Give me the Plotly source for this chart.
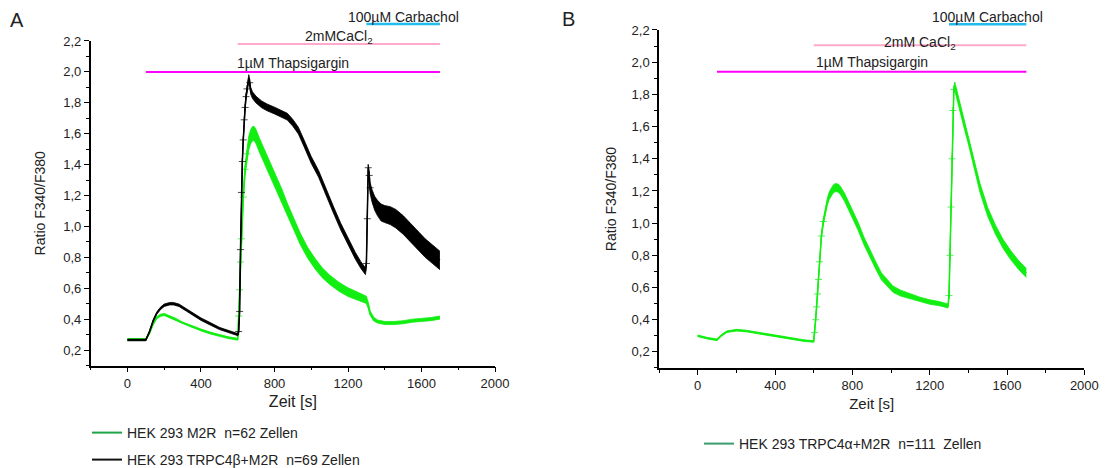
import plotly.graph_objects as go

# ---------------- data ----------------
# Panel A, HEK 293 M2R (green)
t_m2r = [0, 50, 100, 120, 140, 160, 180, 200, 230, 260, 300, 350, 400, 450, 500, 550, 600,
         605, 610, 615, 620, 630, 640, 650, 660, 670, 680, 690, 700,
         720, 750, 780, 810, 840, 870, 900, 940, 980, 1020, 1060, 1100,
         1150, 1200, 1250, 1300, 1310, 1320, 1340, 1360, 1400,
         1450, 1500, 1550, 1600, 1650, 1700]
r_m2r = [0.27, 0.27, 0.27, 0.31, 0.37, 0.41, 0.425, 0.43, 0.415, 0.40, 0.375, 0.35, 0.33, 0.31, 0.295, 0.28, 0.27,
         0.42, 0.59, 0.77, 0.92, 1.19, 1.37, 1.47, 1.54, 1.58, 1.60, 1.60, 1.58,
         1.52, 1.44, 1.36, 1.28, 1.20, 1.11, 1.03, 0.92, 0.83, 0.76, 0.70, 0.655,
         0.61, 0.575, 0.55, 0.525, 0.49, 0.44, 0.40, 0.385, 0.375,
         0.375, 0.38, 0.39, 0.395, 0.40, 0.41]
sem_m2r = [0.005, 0.005, 0.005, 0.006, 0.006, 0.007, 0.007, 0.007, 0.007, 0.007, 0.006, 0.006, 0.006, 0.006, 0.006, 0.006, 0.006,
           0.01, 0.015, 0.02, 0.025, 0.03, 0.035, 0.042, 0.045, 0.046, 0.046, 0.046, 0.046,
           0.046, 0.046, 0.045, 0.044, 0.042, 0.04, 0.039, 0.037, 0.035, 0.034, 0.032, 0.03,
           0.029, 0.028, 0.026, 0.024, 0.02, 0.015, 0.012, 0.01, 0.01,
           0.01, 0.01, 0.01, 0.01, 0.01, 0.01]

# Panel A, HEK 293 TRPC4beta+M2R (black)
t_c4b = [0, 50, 100, 120, 140, 160, 180, 200, 230, 250, 280, 320, 360, 400, 450, 500, 550, 600,
         605, 610, 615, 620, 625, 630, 635, 640, 645, 650, 655, 660, 665, 670, 680,
         700, 730, 760, 800, 840, 870, 900, 930, 960, 1000,
         1040, 1080, 1120, 1160, 1200, 1240, 1270, 1295,
         1300, 1305, 1310, 1315, 1320, 1330, 1345, 1360, 1380, 1400,
         1430, 1460, 1500, 1540, 1580, 1620, 1660, 1700]
r_c4b = [0.265, 0.265, 0.265, 0.32, 0.39, 0.44, 0.47, 0.49, 0.50, 0.50, 0.49, 0.46, 0.43, 0.40, 0.37, 0.34, 0.32, 0.30,
         0.32, 0.45, 0.85, 1.22, 1.42, 1.56, 1.69, 1.77, 1.84, 1.89, 1.93, 1.96, 1.93, 1.88, 1.85,
         1.82, 1.79, 1.77, 1.75, 1.73, 1.71, 1.67, 1.62, 1.54, 1.43,
         1.34, 1.22, 1.11, 1.00, 0.90, 0.81, 0.75, 0.71,
         0.76, 1.05, 1.38, 1.33, 1.25, 1.20, 1.15, 1.12, 1.09, 1.08,
         1.07, 1.05, 1.01, 0.96, 0.91, 0.86, 0.82, 0.78]
sem_c4b = [0.005, 0.005, 0.005, 0.006, 0.007, 0.007, 0.008, 0.008, 0.008, 0.008, 0.008, 0.008, 0.008, 0.008, 0.008, 0.007, 0.007, 0.007,
           0.01, 0.01, 0.01, 0.01, 0.01, 0.01, 0.012, 0.014, 0.016, 0.018, 0.02, 0.022, 0.022, 0.022, 0.022,
           0.022, 0.022, 0.022, 0.022, 0.022, 0.022, 0.022, 0.022, 0.022, 0.022,
           0.022, 0.022, 0.022, 0.022, 0.022, 0.022, 0.022, 0.022,
           0.02, 0.02, 0.02, 0.03, 0.035, 0.04, 0.045, 0.05, 0.055, 0.055,
           0.058, 0.06, 0.06, 0.06, 0.06, 0.06, 0.06, 0.06]

# Panel B, HEK 293 TRPC4alpha+M2R (green)
t_c4a = [0, 50, 100, 120, 150, 200, 250, 300, 350, 400, 450, 500, 550, 600,
         605, 610, 615, 620, 625, 630, 640, 650, 660, 670, 680, 690, 700, 710, 720, 730, 740,
         760, 780, 800, 830, 860, 890, 920, 950, 980, 1010,
         1050, 1100, 1150, 1200, 1250, 1295,
         1300, 1305, 1310, 1315, 1320, 1325, 1330, 1340, 1360, 1380, 1400,
         1430, 1460, 1500, 1540, 1580, 1620, 1660, 1700]
r_c4a = [0.30, 0.285, 0.275, 0.30, 0.325, 0.335, 0.33, 0.32, 0.31, 0.30, 0.29, 0.28, 0.27, 0.265,
         0.32, 0.40, 0.48, 0.56, 0.65, 0.76, 0.92, 1.01, 1.08, 1.13, 1.17, 1.195, 1.21, 1.22, 1.22, 1.215, 1.20,
         1.16, 1.11, 1.06, 0.98, 0.89, 0.81, 0.74, 0.67, 0.63, 0.59,
         0.565, 0.545, 0.525, 0.51, 0.50, 0.485,
         0.55, 0.80, 1.10, 1.40, 1.70, 1.83, 1.85, 1.80, 1.70, 1.61, 1.52,
         1.36, 1.22, 1.07, 0.96, 0.87, 0.80, 0.74, 0.69]
sem_c4a = [0.005, 0.005, 0.005, 0.005, 0.005, 0.005, 0.005, 0.005, 0.005, 0.005, 0.005, 0.005, 0.005, 0.005,
           0.008, 0.01, 0.012, 0.012, 0.014, 0.015, 0.016, 0.018, 0.02, 0.022, 0.024, 0.025, 0.025, 0.025, 0.025, 0.025, 0.025,
           0.025, 0.025, 0.025, 0.025, 0.024, 0.024, 0.023, 0.022, 0.021, 0.02,
           0.018, 0.016, 0.015, 0.014, 0.013, 0.012,
           0.01, 0.01, 0.01, 0.01, 0.015, 0.02, 0.027, 0.028, 0.028, 0.028, 0.028,
           0.028, 0.028, 0.028, 0.028, 0.028, 0.028, 0.028, 0.028]

# Treatment bars
treat_start = [100, 600, 1300]
treat_end = [1700, 1700, 1700]
treat_level_A = [2.0, 2.18, 2.31]
treat_level_B = [1.94, 2.105, 2.235]
treat_label_A = ["1µM Thapsigargin", "2mMCaCl<sub>2</sub>", "100µM Carbachol"]
treat_label_B = ["1µM Thapsigargin", "2mM CaCl<sub>2</sub>", "100µM Carbachol"]

legend_A = ["HEK 293 M2R\u00a0\u00a0n=62 Zellen", "HEK 293 TRPC4β+M2R\u00a0\u00a0n=69 Zellen"]
legend_B = ["HEK 293 TRPC4α+M2R\u00a0\u00a0n=111\u00a0\u00a0Zellen"]

y_tickvals = [0.2, 0.4, 0.6, 0.8, 1.0, 1.2, 1.4, 1.6, 1.8, 2.0, 2.2]
y_ticktext = ["0,2", "0,4", "0,6", "0,8", "1,0", "1,2", "1,4", "1,6", "1,8", "2,0", "2,2"]
x_tickvals = [0, 400, 800, 1200, 1600, 2000]
x_ticktext = ["0", "400", "800", "1200", "1600", "2000"]

# ---------------- styles ----------------
FONT = "Arial, Liberation Sans, sans-serif"
TXT = "#222222"
LIME = "#12ee12"
BLACK = "#000000"
treat_colors = ["#ff00ff", "#ffaacc", "#22bbee"]
treat_widths = [2, 2, 2.5]
XR = [-200, 2000]
YR = [0.1, 2.2]
STEEP = 0.008  # markers are shown individually only on steep segments

fig = go.Figure()


def add_series(t, r, s, color, xa, ya):
    lo = [v - e for v, e in zip(r, s)]
    hi = [v + e for v, e in zip(r, s)]
    sizes = []
    for i in range(len(t)):
        a = max(i - 1, 0)
        b = min(i + 1, len(t) - 1)
        slope = abs(r[b] - r[a]) / (t[b] - t[a])
        sizes.append(5 if slope > STEEP else 0)
    fig.add_trace(go.Scatter(x=t, y=lo, mode="lines", line=dict(color=color, width=0.8),
                             xaxis=xa, yaxis=ya, showlegend=False, hoverinfo="skip"))
    fig.add_trace(go.Scatter(x=t, y=hi, mode="lines", line=dict(color=color, width=0.8),
                             fill="tonexty", fillcolor=color,
                             xaxis=xa, yaxis=ya, showlegend=False, hoverinfo="skip"))
    fig.add_trace(go.Scatter(x=t, y=r, mode="lines+markers",
                             line=dict(color=color, width=1.5),
                             marker=dict(symbol="cross-thin", size=sizes,
                                         line=dict(color=color, width=1)),
                             xaxis=xa, yaxis=ya, showlegend=False))


add_series(t_m2r, r_m2r, sem_m2r, LIME, "x", "y")
add_series(t_c4b, r_c4b, sem_c4b, BLACK, "x", "y")
add_series(t_c4a, r_c4a, sem_c4a, LIME, "x2", "y2")

# legend-only entries
fig.add_trace(go.Scatter(x=[None], y=[None], mode="lines", name=legend_A[0],
                         line=dict(color="#1ea34a", width=2), legend="legend"))
fig.add_trace(go.Scatter(x=[None], y=[None], mode="lines", name=legend_A[1],
                         line=dict(color="#111111", width=2), legend="legend2"))
fig.add_trace(go.Scatter(x=[None], y=[None], mode="lines", name=legend_B[0],
                         line=dict(color="#3a9c6c", width=2), xaxis="x2", yaxis="y2",
                         legend="legend3"))

# treatment bars + labels
label_shift_A = [9, 7, 7]
label_shift_B = [10, 2, 7]
for i in range(3):
    for xa, ya, lev, lab, sh in (("x", "y", treat_level_A, treat_label_A, label_shift_A),
                                 ("x2", "y2", treat_level_B, treat_label_B, label_shift_B)):
        yd = (lev[i] - YR[0]) / (YR[1] - YR[0])
        fig.add_shape(type="line", xref=xa, yref=ya + " domain",
                      x0=treat_start[i], x1=treat_end[i], y0=yd, y1=yd,
                      line=dict(color=treat_colors[i], width=treat_widths[i]))
        fig.add_annotation(xref=xa, yref=ya + " domain",
                           x=(treat_start[i] + treat_end[i]) / 2, y=yd,
                           text=lab[i], showarrow=False, xanchor="center",
                           yanchor="middle", yshift=sh[i],
                           font=dict(family=FONT, size=14, color=TXT))

# panel letters
fig.add_annotation(xref="paper", yref="paper", x=17 / 1105, y=1 - 20 / 468, text="A",
                   showarrow=False, xanchor="center", yanchor="middle",
                   font=dict(family=FONT, size=20, color=TXT))
fig.add_annotation(xref="paper", yref="paper", x=569 / 1105, y=1 - 19 / 468, text="B",
                   showarrow=False, xanchor="center", yanchor="middle",
                   font=dict(family=FONT, size=20, color=TXT))

axis_common = dict(showline=True, linecolor="#000000", linewidth=1.5, ticks="outside",
                   ticklen=5, tickwidth=1.2, tickcolor="#000000", showgrid=False, zeroline=False,
                   tickfont=dict(family=FONT, size=13, color=TXT), mirror=False,
                   automargin=False)

leg_common = dict(xanchor="left", yanchor="top", bgcolor="rgba(0,0,0,0)",
                  font=dict(family=FONT, size=14, color=TXT))

fig.update_layout(
    width=1105, height=468,
    autosize=False,
    margin=dict(l=0, r=0, t=0, b=0, pad=0, autoexpand=False),
    paper_bgcolor="white", plot_bgcolor="white",
    font=dict(family=FONT, color=TXT),
    xaxis=dict(domain=[0.0821, 0.4480], range=XR, anchor="y",
               tickvals=x_tickvals, ticktext=x_ticktext,
               minor=dict(dtick=200, tick0=0, ticks="outside", ticklen=3, tickcolor="#000000"),
               title=dict(text="Zeit [s]", font=dict(family=FONT, size=16, color=TXT), standoff=6),
               **axis_common),
    yaxis=dict(domain=[0.2190, 0.9124], range=YR, anchor="x",
               tickvals=y_tickvals, ticktext=y_ticktext,
               minor=dict(dtick=0.1, tick0=0, ticks="outside", ticklen=3, tickcolor="#000000"),
               title=dict(text="Ratio F340/F380", font=dict(family=FONT, size=14, color=TXT), standoff=14),
               **axis_common),
    xaxis2=dict(domain=[0.5964, 0.9813], range=XR, anchor="y2",
                tickvals=x_tickvals, ticktext=x_ticktext,
                minor=dict(dtick=200, tick0=0, ticks="outside", ticklen=3, tickcolor="#000000"),
                title=dict(text="Zeit [s]", font=dict(family=FONT, size=15, color=TXT), standoff=6),
                **axis_common),
    yaxis2=dict(domain=[0.2137, 0.9359], range=YR, anchor="x2",
                tickvals=y_tickvals, ticktext=y_ticktext,
                minor=dict(dtick=0.1, tick0=0, ticks="outside", ticklen=3, tickcolor="#000000"),
                title=dict(text="Ratio F340/F380", font=dict(family=FONT, size=14, color=TXT), standoff=12),
                **axis_common),
    legend=dict(x=87 / 1105, y=1 - 417 / 468, **leg_common),
    legend2=dict(x=87 / 1105, y=1 - 444 / 468, **leg_common),
    legend3=dict(x=699 / 1105, y=1 - 428 / 468, **leg_common),
)

fig.write_html("out.html",
               config={"displayModeBar": False},
               post_script="document.body.style.margin='0px';document.body.style.overflow='hidden';")
